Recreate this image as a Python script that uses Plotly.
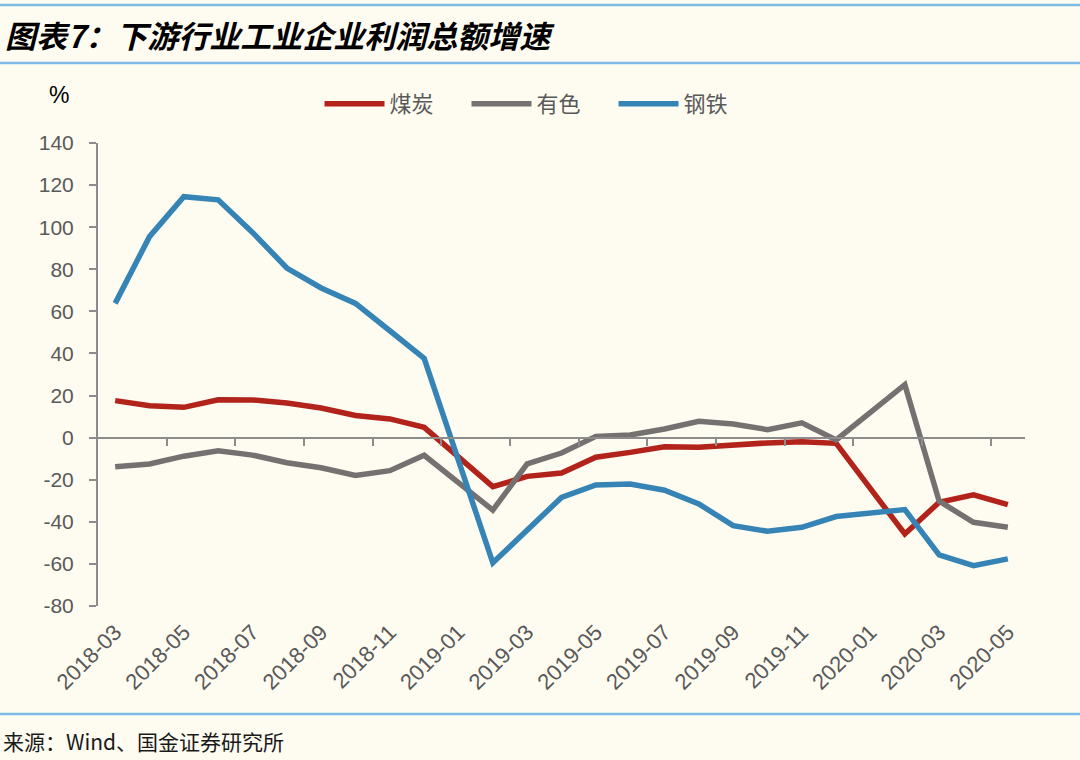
import plotly.graph_objects as go

months = ["2018-03", "2018-04", "2018-05", "2018-06", "2018-07", "2018-08", "2018-09",
          "2018-10", "2018-11", "2018-12", "2019-01", "2019-02", "2019-03", "2019-04",
          "2019-05", "2019-06", "2019-07", "2019-08", "2019-09", "2019-10", "2019-11",
          "2019-12", "2020-01", "2020-02", "2020-03", "2020-04", "2020-05"]

coal = [17.6, 15.2, 14.4, 18.0, 17.9, 16.5, 14.1, 10.5, 8.9, 4.9, None, -23.3, -18.4, -16.8,
        -9.3, -7.0, -4.3, -4.6, -3.3, -2.5, -1.9, -2.7, None, -45.8, -30.7, -27.2, -31.8]
nonferrous = [-13.8, -12.5, -8.8, -6.2, -8.3, -11.9, -14.3, -18.0, -15.7, -8.4, None, -34.4,
              -12.5, -7.3, 0.6, 1.3, 4.1, 7.8, 6.5, 3.8, 7.0, -1.1, None, 25.2, -30.2,
              -40.2, -42.6]
steel = [63.8, 95.5, 114.5, 113.0, 97.5, 80.6, 71.1, 63.8, 50.8, 37.7, None, -59.5, -44.2,
         -28.4, -22.5, -22.0, -25.0, -31.5, -41.8, -44.5, -42.6, -37.5, None, -34.2, -55.7,
         -60.8, -57.6]

series_names = ["煤炭", "有色", "钢铁"]
series_colors = ["#B1231B", "#767171", "#3584B5"]
y_ticks = list(range(-80, 141, 20))
y_tick_text = [str(v) for v in y_ticks]
x_tick_labels = months[::2]

W, H = 1080, 760
ML, MR, MT, MB = 98, 55, 143, 154
PH = H - MT - MB
PW = W - ML - MR
BG = "#FEFCF1"
BLUE_RULE = "#7DBBE6"

fig = go.Figure()
for name, vals, col in zip(series_names, [coal, nonferrous, steel], series_colors):
    fig.add_trace(go.Scatter(x=months, y=vals, name=name, mode="lines",
                             connectgaps=True,
                             line=dict(color=col, width=5.5)))

ymin, ymax = -80, 140
zero_pos = (0 - ymin) / (ymax - ymin)

fig.update_layout(
    width=W, height=H,
    paper_bgcolor=BG, plot_bgcolor=BG,
    margin=dict(l=ML, r=MR, t=MT, b=MB, autoexpand=False),
    showlegend=True,
    legend=dict(orientation="h", xref="container", yref="container",
                x=0.5, xanchor="center", y=1 - 104 / H, yanchor="middle",
                font=dict(family="Noto Sans CJK SC", size=22, color="#595959"),
                bgcolor="rgba(0,0,0,0)", itemwidth=60, tracegroupgap=0,
                entrywidth=72, entrywidthmode="pixels"),
    xaxis=dict(type="category", categoryorder="array", categoryarray=months,
               range=[-0.5, len(months) - 0.5],
               tickmode="array", tickvals=x_tick_labels, ticktext=x_tick_labels,
               tickangle=-45, showline=False, showgrid=False, zeroline=False, ticks="",
               ticklabelstandoff=8,
               tickfont=dict(family="Liberation Sans", size=22, color="#595959")),
    xaxis2=dict(overlaying="x", anchor="free", position=zero_pos, side="bottom",
                range=[-0.5, len(months) - 0.5], showgrid=False, zeroline=False,
                showline=True, linecolor="#8C8C8C", linewidth=2,
                tickmode="array", tickvals=[i + 1.5 for i in range(0, len(months) - 1, 2)],
                ticks="outside", ticklen=7, tickwidth=2, tickcolor="#8C8C8C",
                showticklabels=False),
    yaxis=dict(range=[ymin, ymax], tickmode="array", tickvals=y_ticks,
               ticktext=y_tick_text,
               showgrid=False, zeroline=False, showline=True, linecolor="#8C8C8C",
               linewidth=2, ticks="outside", ticklen=7, tickwidth=2, tickcolor="#8C8C8C",
               tickfont=dict(family="Liberation Sans", size=21, color="#595959"),
               ticklabelstandoff=11),
)

# invisible trace to activate xaxis2 (the zero-line axis with tick marks)
fig.add_trace(go.Scatter(x=[0], y=[None], xaxis="x2", yaxis="y", showlegend=False,
                         hoverinfo="skip"))

def py(ypix):
    return (H - MB - ypix) / PH

def px(xpix):
    return (xpix - ML) / PW

for yy in [5, 63, 714]:
    fig.add_shape(type="line", xref="paper", yref="paper", x0=px(0), x1=px(W),
                  y0=py(yy), y1=py(yy), line=dict(color=BLUE_RULE, width=2.5))

fig.add_annotation(text="<b><i>图表7：下游行业工业企业利润总额增速</i></b>",
                   xref="paper", yref="paper", x=px(3), y=py(34), xanchor="left",
                   yanchor="middle", showarrow=False,
                   font=dict(family="Noto Sans CJK SC", size=31, color="#000000"))
fig.add_annotation(text="来源：Wind、国金证券研究所", xref="paper", yref="paper",
                   x=px(1), y=py(741), xanchor="left", yanchor="middle", showarrow=False,
                   font=dict(family="Noto Sans CJK SC", size=21, color="#1A1A1A"))
fig.add_annotation(text="%", xref="paper", yref="paper", x=px(59), y=py(95),
                   xanchor="center", yanchor="middle", showarrow=False,
                   font=dict(family="Liberation Sans", size=23, color="#000000"))

fig.write_html("out.html", config={"displayModeBar": False},
               post_script="document.body.style.margin='0';")
